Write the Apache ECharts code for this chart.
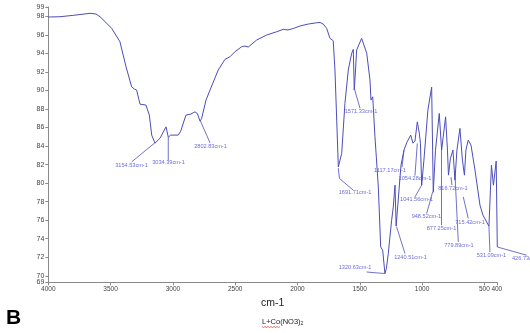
<!DOCTYPE html>
<html>
<head>
<meta charset="utf-8">
<script src="https://cdn.jsdelivr.net/npm/echarts@6/dist/echarts.min.js"></script>
<style>
html,body{margin:0;padding:0;background:#fff;}
#chart{width:530px;height:333px;}
</style>
</head>
<body>
<div id="chart"></div>
<script>
// ---- data ----
const wavenumber = [4000,3906,3799,3665,3617,3585,3491,3425,3376,3331,3308,3291,3264,3216,3189,3170,3144,3103,3055,3037,3018,2957,2937,2895,2855,2823,2804,2782,2769,2734,2702,2636,2582,2542,2502,2448,2421,2395,2327,2247,2167,2114,2076,2034,1980,1913,1846,1819,1793,1766,1739,1713,1699,1685,1672,1663,1645,1619,1592,1565,1552,1544,1534,1525,1485,1444,1418,1410,1396,1378,1351,1332,1316,1298,1286,1271,1258,1244,1231,1217,1208,1197,1185,1169,1145,1121,1091,1073,1057,1038,1022,1013,1003,985,953,923,915,910,892,862,843,811,796,788,772,752,736,720,696,676,660,648,629,607,575,535,511,463,443,427,405,396,396];
const transmittance = [97.92,97.95,98.10,98.32,98.24,97.95,96.70,95.25,92.55,90.39,90.14,90.04,88.52,88.42,87.34,85.18,84.31,84.85,86.07,84.96,85.18,85.18,85.61,87.34,87.45,87.69,87.52,86.69,86.98,88.96,90.04,92.20,93.35,93.63,94.17,94.71,94.79,94.68,95.44,95.98,96.33,96.59,96.52,96.68,96.95,97.16,97.30,97.33,97.16,96.70,95.62,95.36,92.20,86.80,81.75,81.61,83.20,88.60,92.20,94.00,94.43,90.04,92.20,94.36,95.62,94.00,91.12,88.96,89.31,85.00,79.59,73.11,72.76,70.24,70.81,72.40,74.19,76.00,77.43,79.78,75.35,75.35,79.24,81.94,83.56,84.42,85.18,84.31,84.53,86.61,85.39,84.31,79.78,82.48,87.88,90.36,83.56,79.02,83.56,87.52,83.56,87.15,83.56,80.86,82.69,83.56,80.32,83.56,85.90,82.48,80.86,83.56,84.64,84.10,81.40,77.62,76.54,75.35,81.94,79.78,82.37,82.37,73.11];

const peakLabels = ['3154.53cm-1','3034.39cm-1','2802.83cm-1','1571.33cm-1','1691.71cm-1','1117.17cm-1','1054.28cm-1','1041.56cm-1','948.52cm-1','877.25cm-1','816.72cm-1','779.89cm-1','715.42cm-1','531.09cm-1','1240.51cm-1','1320.63cm-1','426.73cm-1'];
const peakLabelWn = [3332,3035,2698,1490,1538,1257,1057,1045,965,844,752,704,615,443,1093,1538,278];
const peakLabelT  = [81.94,82.23,83.99,87.69,78.95,81.40,80.50,78.27,76.43,75.10,79.42,73.30,75.71,72.22,72.03,70.95,71.89];

// leader lines: from peak to its label, [wavenumber, transmittance]
const leaderPaths = [
  [[3144,84.35],[3331,82.29]],
  [[3037,84.99],[3037,82.48]],
  [[2782,86.80],[2702,84.35]],
  [[1542,90.14],[1498,88.06]],
  [[1672,81.61],[1663,80.50],[1552,79.24]],
  [[1161,81.72],[1145,83.56]],
  [[1057,80.80],[1038,84.28]],
  [[1057,78.51],[1003,79.78]],
  [[963,76.72],[915,79.05]],
  [[844,83.56],[844,75.46]],
  [[768,80.64],[760,79.78]],
  [[736,81.04],[709,73.65]],
  [[669,78.51],[629,76.18]],
  [[463,75.35],[455,72.57]],
  [[1204,75.27],[1137,72.40]],
  [[1444,70.41],[1298,70.24]],
  [[396,73.11],[160,72.22]]
];

const xTicks = [4000,3500,3000,2500,2000,1500,1000,500,400];
const yMin = 69.3, yMax = 99;
const yTicks = [70,72,74,76,78,80,82,84,86,88,90,92,94,96,98,99];
const yTickLabels = ['70','72','74','76','78','80','82','84','86','88','90','92','94','96','98','99'];
const yMinLabel = '69';
const xTitle = 'cm-1';
const panelLetter = 'B';
const sampleName = 'L+Co(NO3)';
const sampleSub = '2';

// ---- chart ----
const narrow = '"Liberation Sans Narrow","Liberation Sans",Arial,sans-serif';
const lineColor = '#4d4dbb';
const textColor = '#4646d6';
const axisGray = '#8a8a8a';

const chart = echarts.init(document.getElementById('chart'), null, {renderer:'canvas'});

const spectrum = wavenumber.map((w,i)=>[w, transmittance[i]]);
const labelData = peakLabels.map((t,i)=>({
  name: t,
  value: [peakLabelWn[i], peakLabelT[i]],
  label: i === peakLabels.length-1 ? {align:'left'} : {}
}));

function yLabel(v){
  let best = 0, d = Infinity;
  yTicks.forEach((t,i)=>{ const dd = Math.abs(t - v); if (dd < d){ d = dd; best = i; } });
  return d < 0.05 ? yTickLabels[best] : '';
}

// red spell-check squiggle under part of the sample name
const squiggle = [];
for (let k = 0; k <= 12; k++) squiggle.push([262 + k*1.5, 326.5 + (k % 2 ? 1 : 0)]);

const yAxisBase = {
  type: 'value', min: yMin, max: yMax, position: 'left',
  splitLine: {show: false}
};

chart.setOption({
  animation: false,
  backgroundColor: '#fff',
  grid: {left: 48.3, right: 33.2, top: 7, bottom: 50.7, containLabel: false, outerBoundsMode: 'none'},
  title: [
    {text: panelLetter, left: 6, top: 308, padding: 0, textStyle: {fontSize: 21, fontWeight: 'bold', color: '#000', fontFamily: '"Liberation Sans",Arial,sans-serif'}},
    {text: '{m|' + sampleName + '}{s|' + sampleSub + '}', left: 262, top: 317, padding: 0,
     textStyle: {fontWeight: 'normal', rich: {
       m: {fontSize: 7.5, color: '#222', fontWeight: 'normal', fontFamily: narrow},
       s: {fontSize: 5, color: '#222', fontWeight: 'normal', fontFamily: narrow, padding: [4,0,0,0]}
     }}}
  ],
  graphic: [
    {type: 'polyline', z: 100, shape: {points: squiggle}, style: {stroke: '#e03030', lineWidth: 0.7, fill: null}, silent: true}
  ],
  xAxis: {
    type: 'value', inverse: true, min: 400, max: 4000,
    name: xTitle, nameLocation: 'middle', nameGap: 11,
    nameTextStyle: {fontSize: 10.5, color: '#222', fontFamily: narrow},
    axisLine: {show: true, lineStyle: {color: axisGray, width: 1}},
    axisTick: {show: true, length: 3, inside: false, customValues: xTicks, lineStyle: {color: axisGray}},
    axisLabel: {customValues: xTicks, fontSize: 6.5, color: '#444', margin: 3, fontFamily: narrow,
      hideOverlap: false, formatter: v => String(Math.round(v))},
    splitLine: {show: false}
  },
  yAxis: [
    Object.assign({}, yAxisBase, {
      axisLine: {show: true, lineStyle: {color: axisGray, width: 1}},
      axisTick: {show: true, length: 3, inside: false, customValues: [yMin].concat(yTicks), lineStyle: {color: axisGray}},
      axisLabel: {customValues: yTicks, fontSize: 7, color: '#444', margin: 4, fontFamily: narrow,
        showMinLabel: true, showMaxLabel: true, hideOverlap: false, formatter: yLabel}
    }),
    Object.assign({}, yAxisBase, {
      axisLine: {show: false},
      axisTick: {show: false},
      axisLabel: {customValues: [yMin], fontSize: 7, color: '#444', margin: 4, fontFamily: narrow,
        showMinLabel: true, formatter: () => yMinLabel}
    })
  ],
  series: [
    {
      type: 'line', data: spectrum, showSymbol: false, symbol: 'none', clip: false,
      lineStyle: {color: lineColor, width: 1}, silent: true
    },
    {
      type: 'lines', coordinateSystem: 'cartesian2d', polyline: true, clip: false,
      data: leaderPaths.map(p => ({coords: p})),
      lineStyle: {color: lineColor, width: 0.8, opacity: 1}, silent: true
    },
    {
      type: 'scatter', data: labelData, symbolSize: 0, clip: false, silent: true,
      label: {show: true, position: 'inside', formatter: p => p.name,
        fontSize: 5.6, color: textColor, fontFamily: narrow}
    }
  ]
});
</script>
</body>
</html>
